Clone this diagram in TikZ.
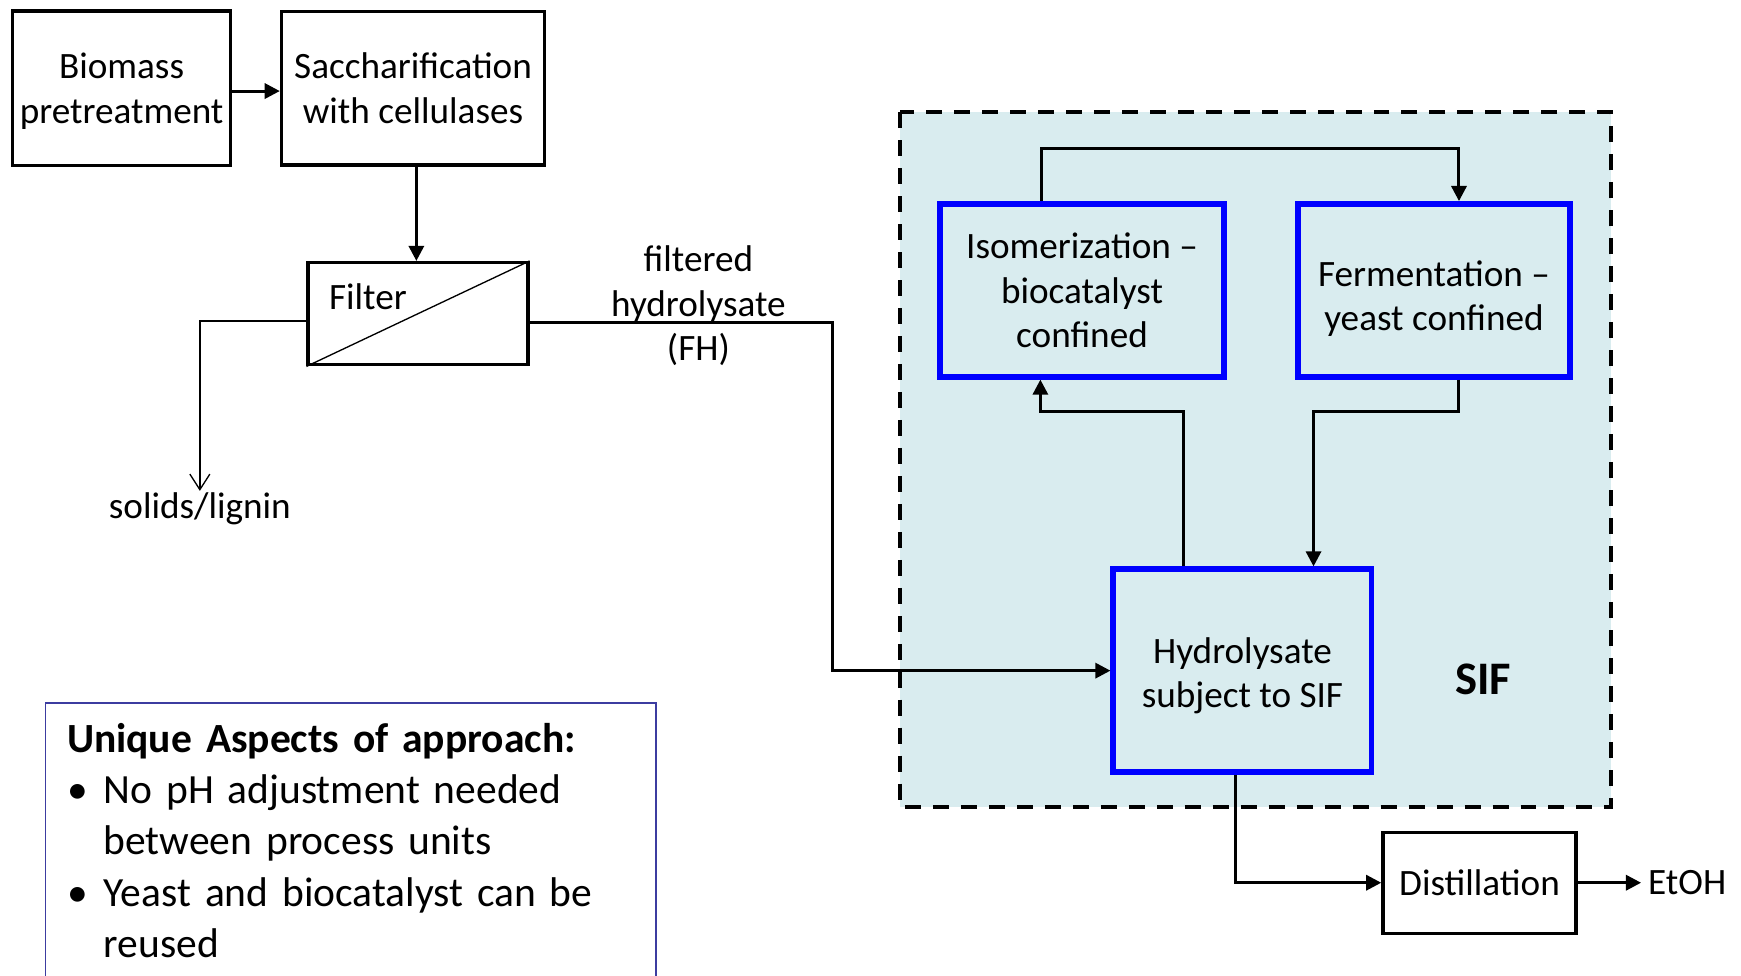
\documentclass[tikz,border=0pt]{standalone}
\usepackage{fontspec}
\setmainfont{Carlito}
\usetikzlibrary{arrows.meta}
\definecolor{sifbg}{RGB}{217,236,239}
\definecolor{sifblue}{RGB}{0,0,255}
\definecolor{uframe}{RGB}{60,60,160}
\newcommand{\mainfs}{\fontsize{16.75pt}{20pt}\selectfont}
\newcommand{\aspfs}{\fontsize{18.7pt}{23pt}\selectfont}
\begin{document}
\begin{tikzpicture}[x=0.5pt,y=-0.5pt,
  box/.style={draw=black, line width=1.5pt, align=center, inner sep=0pt, font=\mainfs},
  sbox/.style={draw=sifblue, line width=2.6pt, align=center, inner sep=0pt, font=\mainfs},
  conn/.style={line width=1.35pt, -{Triangle[length=6.8pt,width=6.8pt]}},
  thinconn/.style={line width=0.6pt, -{Straight Barb[length=7pt,width=9pt]}},
  lbl/.style={font=\mainfs, align=center, inner sep=0pt}]
\useasboundingbox (0,0) rectangle (1568,879);

% SIF region
\draw[fill=sifbg, draw=black, line width=1.8pt, dash pattern=on 7.2pt off 5.4pt] (811,101) rectangle (1451,727);

% boxes
\node[box, minimum width=98pt, minimum height=69.5pt] (bio) at (109.5,79.5) {Biomass\\\smash{pretreatment}};
\node[box, minimum width=118.5pt, minimum height=69pt] (sac) at (372,79.5) {Saccharification\\with cellulases};
\node[box, minimum width=99pt, minimum height=46pt] (filt) at (376.5,282.5) {};
\draw[line width=0.6pt] (filt.south west) -- (filt.north east);
\node[lbl, anchor=base west] (filtlbl) at (296,279) {Filter};
\node[lbl] (fh) at (629,275.5) {filtered\\hydrolysate\\(FH)};
\node[lbl, inner sep=0.5pt] (solids) at (180,458) {solids/lignin};

\node[sbox, minimum width=127.8pt, minimum height=77.8pt] (isom) at (974.5,261.5) {Isomerization --\\biocatalyst\\confined};
\node[sbox, minimum width=122.8pt, minimum height=77.8pt] (ferm) at (1291.5,261.5) {};
\node[lbl] (fermlbl) at (1291.5,269) {Fermentation --\\yeast confined};
\node[sbox, minimum width=116.3pt, minimum height=91.3pt] (hydro) at (1119,604) {};
\node[lbl] (hydrolbl) at (1119,608.5) {Hydrolysate\\subject to SIF};
\node[font=\fontsize{21pt}{25pt}\selectfont\bfseries, inner sep=0pt] (sif) at (1336,612) {SIF};

\node[box, minimum width=87pt, minimum height=45.5pt] (dist) at (1332.5,795) {Distillation};
\node[lbl, anchor=west, inner sep=3pt] (etoh) at (1478,795) {EtOH};

% route coordinates
\coordinate (sl) at (180,289);
\coordinate (fh1) at (750,290);
\coordinate (t1) at (938,134);
\coordinate (t2) at (1314,134);
\coordinate (m1) at (1314,371);
\coordinate (m2) at (1183,371);
\coordinate (h1) at (1066,371);
\coordinate (h2) at (937,371);
\coordinate (d1) at (1113,795);

% connectors
\draw[conn] (bio.east |- 0,82) -- (sac.west |- 0,82);
\draw[conn] (sac.south -| 375,0) -- (filt.north -| 375,0);
\draw[thinconn] (filt.west |- sl) -- (sl) -- (solids.north);
\draw[conn] (filt.east |- fh1) -- (fh1) |- (hydro.west);
\draw[conn] (isom.north -| t1) -- (t1) -- (t2) -- (ferm.north -| t2);
\draw[conn] (ferm.south -| m1) -- (m1) -- (m2) -- (hydro.north -| m2);
\draw[conn] (hydro.north -| h1) -- (h1) -- (h2) -- (isom.south -| h2);
\draw[conn] (hydro.south -| d1) |- (dist.west);
\draw[conn] (dist.east) -- (etoh.west);

% unique aspects box
\draw[draw=uframe, line width=0.7pt] (41,880) -- (41,633) -- (591,633) -- (591,880);
\node[anchor=base west, text width=266pt, inner sep=0pt, font=\aspfs, align=left] (aspects) at (60,678)
{{\bfseries Unique Aspects of approach:}\par
\hangindent=16.5pt\hangafter=1 \makebox[16.5pt][l]{\hspace{0pt}•}No pH adjustment needed\newline between process units\par
\hangindent=16.5pt\hangafter=1 \makebox[16.5pt][l]{\hspace{0pt}•}Yeast and biocatalyst can be\newline reused\par};
\end{tikzpicture}
\end{document}
